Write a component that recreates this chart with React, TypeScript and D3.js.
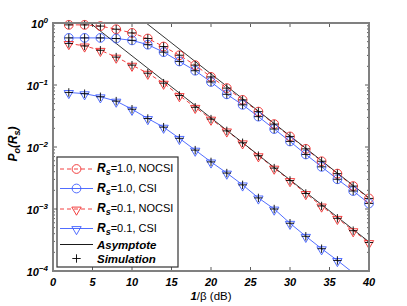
import React, { useEffect, useRef } from 'react';
import * as d3 from 'd3';

// SNR points (1/beta in dB)
const snrDb = [2, 4, 6, 8, 10, 12, 14, 16, 18, 20, 22, 24, 26, 28, 30, 32, 34, 36, 38, 40];

// outage probability per curve
const rs10Nocsi = [0.933, 0.933, 0.891, 0.794, 0.692, 0.562, 0.417, 0.302, 0.209, 0.135, 0.0891, 0.0575, 0.0372, 0.0234, 0.0148, 0.00933, 0.00589, 0.00372, 0.00234, 0.00148];
const rs10Csi = [0.575, 0.575, 0.575, 0.562, 0.525, 0.447, 0.339, 0.24, 0.17, 0.112, 0.0708, 0.0479, 0.0309, 0.0195, 0.0123, 0.00759, 0.00479, 0.00302, 0.00195, 0.00123];
const rs01Nocsi = [0.468, 0.427, 0.363, 0.282, 0.209, 0.155, 0.107, 0.0676, 0.0437, 0.0282, 0.0182, 0.0117, 0.00724, 0.00457, 0.00288, 0.00178, 0.00112, 0.000708, 0.000447, 0.000288];
const rs01Csi = [0.0759, 0.0724, 0.0646, 0.055, 0.0407, 0.0288, 0.0209, 0.0138, 0.00891, 0.00575, 0.0038, 0.00245, 0.00151, 0.001, 0.000589, 0.000363, 0.000229, 0.000148, 0.0000933, 0.0000589];

// high-SNR asymptotes (end points at 0 and 40 dB)
const asymX = [0, 40];
const asymUpper = [15.1, 0.00151];
const asymLower = [2.95, 0.000295];

const xTicks = [0, 5, 10, 15, 20, 25, 30, 35, 40];
const yTickExps = [0, -1, -2, -3, -4];

const legendRs = ['1.0', '1.0', '0.1', '0.1'];
const legendMode = ['NOCSI', 'CSI', 'NOCSI', 'CSI'];

const RED = '#f02a2a';
const BLUE = '#3d5cff';

const series = [
  { values: rs10Nocsi, color: RED, dashed: true, marker: 'circle' },
  { values: rs10Csi, color: BLUE, dashed: false, marker: 'circle' },
  { values: rs01Nocsi, color: RED, dashed: true, marker: 'triangle' },
  { values: rs01Csi, color: BLUE, dashed: false, marker: 'triangle' }
];

const App = () => {
  const ref = useRef<SVGSVGElement>(null);

  useEffect(() => {
    const svg = d3.select(ref.current);
    svg.selectAll('*').remove();

    const width = 407;
    const height = 306;
    const margin = { top: 23, right: 38, bottom: 35, left: 53 };
    const font = '"Liberation Sans", Arial, sans-serif';

    const x = d3.scaleLinear().domain([0, 40]).range([margin.left, width - margin.right]);
    const y = d3.scaleLog().domain([1e-4, 1]).range([height - margin.bottom, margin.top]);

    svg.append('rect').attr('width', width).attr('height', height).attr('fill', '#fff');

    svg
      .append('clipPath')
      .attr('id', 'plotclip')
      .append('rect')
      .attr('x', margin.left)
      .attr('y', margin.top)
      .attr('width', width - margin.left - margin.right)
      .attr('height', height - margin.top - margin.bottom);

    const x0 = margin.left;
    const x1 = width - margin.right;
    const y0 = height - margin.bottom;
    const y1 = margin.top;

    // === ticks (inward, on all four sides) ===
    const ticks = svg.append('g').attr('stroke', '#333').attr('stroke-width', 0.8);
    xTicks.forEach((t) => {
      ticks.append('line').attr('x1', x(t)).attr('x2', x(t)).attr('y1', y0).attr('y2', y0 - 4);
      ticks.append('line').attr('x1', x(t)).attr('x2', x(t)).attr('y1', y1).attr('y2', y1 + 4);
    });
    for (let e = -4; e < 0; e++) {
      for (let m = 1; m < 10; m++) {
        const v = m * Math.pow(10, e);
        const len = m === 1 ? 4 : 2;
        ticks.append('line').attr('x1', x0).attr('x2', x0 + len).attr('y1', y(v)).attr('y2', y(v));
        ticks.append('line').attr('x1', x1).attr('x2', x1 - len).attr('y1', y(v)).attr('y2', y(v));
      }
    }

    // === curves ===
    const line = d3
      .line<number>()
      .x((_, i) => x(snrDb[i]))
      .y((d) => y(d));

    const plot = svg.append('g').attr('clip-path', 'url(#plotclip)');
    const tri = d3.symbol().type(d3.symbolTriangle).size(38);

    const drawMarker = (g: any, kind: string, cx: number, cy: number, color: string) => {
      if (kind === 'circle') {
        g.append('circle').attr('cx', cx).attr('cy', cy).attr('r', 4.4).attr('fill', 'none').attr('stroke', color).attr('stroke-width', 0.9);
      } else {
        g.append('path')
          .attr('d', tri())
          .attr('transform', `translate(${cx},${cy + 0.8}) rotate(180)`)
          .attr('fill', 'none')
          .attr('stroke', color)
          .attr('stroke-width', 0.9);
      }
    };

    series.forEach((s) => {
      plot
        .append('path')
        .datum(s.values)
        .attr('fill', 'none')
        .attr('stroke', s.color)
        .attr('stroke-width', 0.9)
        .attr('stroke-dasharray', s.dashed ? '4,3' : null)
        .attr('d', line);
    });

    const marks = svg.append('g');
    series.forEach((s) => {
      s.values.forEach((v, i) => {
        if (v < 1e-4) return;
        drawMarker(marks, s.marker, x(snrDb[i]), y(v), s.color);
      });
    });

    // asymptotes
    [asymUpper, asymLower].forEach((a) => {
      plot
        .append('line')
        .attr('x1', x(asymX[0]))
        .attr('y1', y(a[0]))
        .attr('x2', x(asymX[1]))
        .attr('y2', y(a[1]))
        .attr('stroke', '#000')
        .attr('stroke-width', 0.8);
    });

    // simulation points
    const drawPlus = (g: any, cx: number, cy: number) => {
      g.append('path')
        .attr('d', `M${cx - 4.2},${cy}H${cx + 4.2}M${cx},${cy - 4.2}V${cy + 4.2}`)
        .attr('stroke', '#000')
        .attr('stroke-width', 0.9);
    };
    series.forEach((s) => {
      s.values.forEach((v, i) => {
        if (v < 1e-4) return;
        drawPlus(marks, x(snrDb[i]), y(v));
      });
    });

    // === frame ===
    svg
      .append('rect')
      .attr('x', x0)
      .attr('y', y1)
      .attr('width', x1 - x0)
      .attr('height', y0 - y1)
      .attr('fill', 'none')
      .attr('stroke', '#808080')
      .attr('stroke-width', 2);

    // === tick labels ===
    xTicks.forEach((t) => {
      svg
        .append('text')
        .attr('x', x(t))
        .attr('y', y0 + 15)
        .attr('text-anchor', 'middle')
        .attr('font-family', font)
        .attr('font-size', 11)
        .attr('font-weight', 'bold')
        .attr('font-style', 'italic')
        .text(t);
    });
    yTickExps.forEach((e) => {
      const t = svg
        .append('text')
        .attr('x', x0 - 5)
        .attr('y', y(Math.pow(10, e)) + 5)
        .attr('text-anchor', 'end')
        .attr('font-family', font)
        .attr('font-weight', 'bold')
        .attr('font-style', 'italic')
        .attr('font-size', 11);
      t.append('tspan').text('10');
      t.append('tspan').attr('font-size', 8).attr('dy', -5).text(e === 0 ? '0' : `\u2212${-e}`);
    });

    // === axis labels ===
    const xl = svg
      .append('text')
      .attr('x', (x0 + x1) / 2)
      .attr('y', 300)
      .attr('text-anchor', 'middle')
      .attr('font-family', font)
      .attr('font-size', 11.5);
    xl.append('tspan').attr('font-weight', 'bold').attr('font-style', 'italic').text('1');
    xl.append('tspan').text('/\u03b2 (dB)');

    const yl = svg
      .append('text')
      .attr('transform', `translate(17,${(y0 + y1) / 2 - 3}) rotate(-90)`)
      .attr('text-anchor', 'middle')
      .attr('font-family', font)
      .attr('font-size', 12)
      .attr('font-weight', 'bold')
      .attr('font-style', 'italic');
    yl.append('tspan').text('P');
    yl.append('tspan').attr('font-size', 9).attr('dy', 3).text('o');
    yl.append('tspan').attr('dy', -3).text('(R');
    yl.append('tspan').attr('font-size', 9).attr('dy', 3).text('s');
    yl.append('tspan').attr('dy', -3).text(')');

    // === legend ===
    const lg = svg.append('g');
    lg.append('rect')
      .attr('x', 57)
      .attr('y', 157)
      .attr('width', 121)
      .attr('height', 110)
      .attr('fill', '#fff')
      .attr('stroke', '#333')
      .attr('stroke-width', 1.2);
    const rowY = [169, 188.5, 209, 228.5, 244.5, 258.5];
    series.forEach((s, i) => {
      const ry = rowY[i];
      lg.append('line')
        .attr('x1', 60)
        .attr('x2', 93)
        .attr('y1', ry)
        .attr('y2', ry)
        .attr('stroke', s.color)
        .attr('stroke-width', 0.9)
        .attr('stroke-dasharray', s.dashed ? '4,3' : null);
      drawMarker(lg, s.marker, 76.5, ry, s.color);
      const t = lg
        .append('text')
        .attr('x', 97)
        .attr('y', ry + 3)
        .attr('font-family', font)
        .attr('font-size', 11);
      t.append('tspan').attr('font-weight', 'bold').attr('font-style', 'italic').attr('font-size', 12).text('R');
      t.append('tspan').attr('font-weight', 'bold').attr('font-style', 'italic').attr('font-size', 9).attr('dy', 3).text('s');
      t.append('tspan').attr('dy', -3).text(`=${legendRs[i]}, ${legendMode[i]}`);
    });
    lg.append('line').attr('x1', 60).attr('x2', 93).attr('y1', rowY[4]).attr('y2', rowY[4]).attr('stroke', '#000').attr('stroke-width', 0.9);
    drawPlus(lg, 76.5, rowY[5]);
    ['Asymptote', 'Simulation'].forEach((label, j) => {
      lg.append('text')
        .attr('x', 97)
        .attr('y', rowY[4 + j] + 4)
        .attr('font-family', font)
        .attr('font-size', 11.5)
        .attr('font-weight', 'bold')
        .attr('font-style', 'italic')
        .text(label);
    });
  }, []);

  return <svg ref={ref} width={407} height={306} style={{ position: 'absolute', left: 0, top: 0 }}></svg>;
};

export default App;
